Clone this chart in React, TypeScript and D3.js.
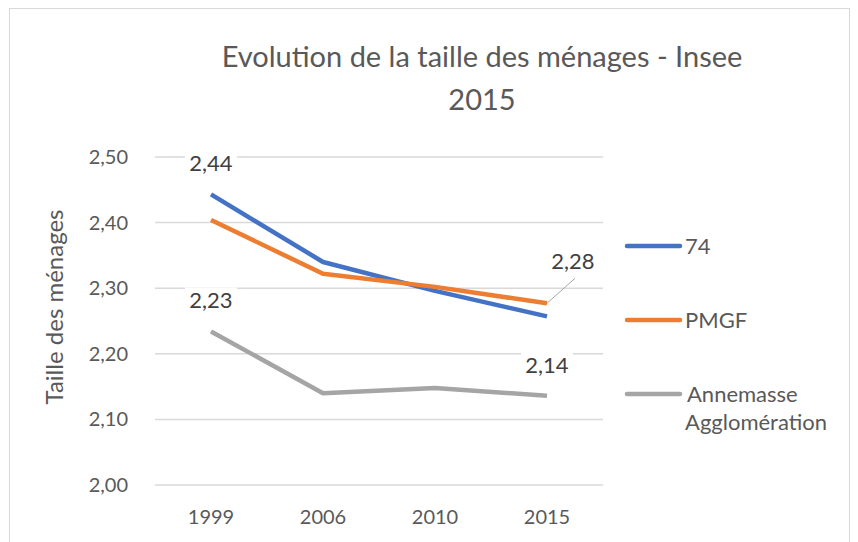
import React from "react";
import * as d3 from "d3";

const years = ["1999", "2006", "2010", "2015"];
const seriesNames = ["74", "PMGF", "Annemasse Agglomération"];
const values74 = [2.443, 2.34, 2.296, 2.257];
const valuesPmgf = [2.404, 2.322, 2.302, 2.277];
const valuesAnnemasse = [2.234, 2.14, 2.148, 2.136];
const yTicks = [2.0, 2.1, 2.2, 2.3, 2.4, 2.5];
const colors = ["#4472C4", "#ED7D31", "#A5A5A5"];

// data labels shown on the chart: series index, point index, text
const dataLabels = [
  { s: 0, i: 0, text: "2,44" },
  { s: 2, i: 0, text: "2,23" },
  { s: 1, i: 3, text: "2,28" },
  { s: 2, i: 3, text: "2,14" },
];

const font = "Lato, 'Open Sans', sans-serif";

const App = () => {
  const W = 858;
  const H = 542;
  const series = [values74, valuesPmgf, valuesAnnemasse];

  const x = d3.scalePoint().domain(years).range([155, 603]).padding(0.5);
  const y = d3.scaleLinear().domain([2.0, 2.5]).range([485, 157]);

  const line = d3
    .line<number>()
    .x((d, i) => x(years[i]) as number)
    .y((d) => y(d));

  const fmt = (v: number) => d3.format(".2f")(v).replace(".", ",");

  return (
    <svg
      width={W}
      height={H}
      style={{ position: "absolute", left: 0, top: 0, background: "#fff" }}
      fontFamily={font}
    >
      <rect x={9.5} y={8.5} width={840} height={560} fill="#fff" stroke="#d9d9d9" />

      {/* title */}
      <text x={482} y={67} textAnchor="middle" fontSize={29} fill="#595959">
        Evolution de la taille des ménages - Insee
      </text>
      <text x={482} y={110} textAnchor="middle" fontSize={29} fill="#595959">
        2015
      </text>

      {/* gridlines + y ticks */}
      {yTicks.map((t) => (
        <g key={t}>
          <line x1={155} x2={603} y1={y(t)} y2={y(t)} stroke="#d9d9d9" strokeWidth={1.5} />
          <text x={128} y={y(t)} dy="0.35em" textAnchor="end" fontSize={20} fill="#595959">
            {fmt(t)}
          </text>
        </g>
      ))}

      {/* x labels */}
      {years.map((yr) => (
        <text key={yr} x={x(yr)} y={524} textAnchor="middle" fontSize={20} fill="#595959">
          {yr}
        </text>
      ))}

      {/* y axis title */}
      <text
        transform={`translate(63, 307) rotate(-90)`}
        textAnchor="middle"
        fontSize={24}
        fill="#595959"
      >
        Taille des ménages
      </text>

      {/* lines */}
      {series.map((vals, s) => (
        <path
          key={s}
          d={line(vals) as string}
          fill="none"
          stroke={colors[s]}
          strokeWidth={4.5}
          strokeLinejoin="round"
        />
      ))}

      {/* data labels */}
      {dataLabels.map((l, k) => {
        const px = x(years[l.i]) as number;
        const py = y(series[l.s][l.i]);
        const moved = l.s === 1 && l.i === 3;
        const lx = moved ? px + 26 : px;
        const ly = moved ? py - 34 : py - 23;
        return (
          <g key={k}>
            {moved && (
              <line x1={px} y1={py} x2={px + 28} y2={py - 25} stroke="#a6a6a6" strokeWidth={1} />
            )}
            <rect x={lx - 26} y={ly - 21} width={52} height={27} fill="#fff" />
            <text x={lx} y={ly} textAnchor="middle" fontSize={22} fill="#404040">
              {l.text}
            </text>
          </g>
        );
      })}

      {/* legend */}
      {seriesNames.map((name, s) => {
        const ly = 246 + s * 74;
        const words = s === 2 ? ["Annemasse", "Agglomération"] : [name];
        return (
          <g key={name}>
            <line x1={627} x2={680} y1={ly} y2={ly} stroke={colors[s]} strokeWidth={4.5} strokeLinecap="round" />
            {words.map((w, j) => (
              <text
                key={w}
                x={j === 0 && s === 2 ? 687 : 685}
                y={ly + j * 28}
                dy="0.35em"
                fontSize={22}
                fill="#595959"
              >
                {w}
              </text>
            ))}
          </g>
        );
      })}
    </svg>
  );
};

export default App;
